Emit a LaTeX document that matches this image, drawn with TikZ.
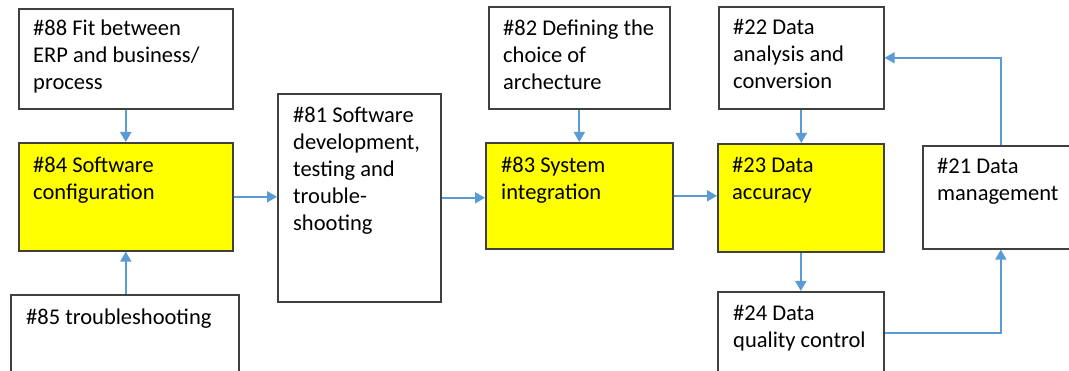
\documentclass[tikz,border=0pt]{standalone}
\usepackage{fontspec}
\setmainfont{Carlito}
\usetikzlibrary{arrows.meta}
\definecolor{boxline}{HTML}{404040}
\definecolor{flow}{HTML}{5B9BD5}
\definecolor{hilite}{HTML}{FFFF00}
\begin{document}
\begin{tikzpicture}[x=1pt,y=-1pt,
  box/.style={draw=boxline,line width=1.6pt,rectangle,inner sep=0pt,anchor=north west,fill=white},
  keybox/.style={box,fill=hilite},
  txt/.style={anchor=north west,inner sep=0pt,align=left,font=\fontsize{22.5}{27}\selectfont},
  flowline/.style={draw=flow,line width=1.8pt,-{Triangle[width=11pt,length=10pt]}}]
\clip (0,0) rectangle (1069,371);
\useasboundingbox (0,0) rectangle (1069,371);
\fill[white] (0,0) rectangle (1069,371);

% boxes
\node[box,minimum width=214pt,minimum height=100pt] (n88) at (18,8) {};
\node[keybox,minimum width=214pt,minimum height=108pt] (n84) at (18,142) {};
\node[box,minimum width=228pt,minimum height=100pt] (n85) at (10,294) {};
\node[box,minimum width=163pt,minimum height=208pt] (n81) at (277,93) {};
\node[box,minimum width=181pt,minimum height=102pt] (n82) at (488,6) {};
\node[keybox,minimum width=187pt,minimum height=106pt] (n83) at (485,142) {};
\node[box,minimum width=165pt,minimum height=102pt] (n22) at (718,6) {};
\node[keybox,minimum width=166pt,minimum height=108pt] (n23) at (717,143) {};
\node[box,minimum width=166pt,minimum height=82pt] (n24) at (717,291) {};
\node[box,minimum width=156pt,minimum height=103pt] (n21) at (922,145) {};

% labels
\node[txt] (t88) at (33,16) {\strut\#88 Fit between\\ERP and business/\\process};
\node[txt] (t84) at (33,153) {\strut\#84 Software\\configuration};
\node[txt] (t85) at (26,305) {\strut\#85 troubleshooting};
\node[txt] (t81) at (293,103) {\strut\#81 Software\\development,\\testing and\\trouble-\\shooting};
\node[txt] (t82) at (503,16) {\strut\#82 Defining the\\choice of\\archecture};
\node[txt] (t83) at (501,153) {\strut\#83 System\\integration};
\node[txt] (t22) at (733,15) {\strut\#22 Data\\analysis and\\conversion};
\node[txt] (t23) at (732,153) {\strut\#23 Data\\accuracy};
\node[txt] (t24) at (733,301) {\strut\#24 Data\\quality control};
\node[txt] (t21) at (937,154) {\strut\#21 Data\\management};

% connectors
\draw[flowline] (n88.south) -- (n84.north);
\draw[flowline] (n85.north -| n84.south) -- (n84.south);
\draw[flowline] (n84.east) -- (n84.east -| n81.west);
\draw[flowline] (n81.east) -- (n81.east -| n83.west);
\draw[flowline] (n82.south) -- (n82.south |- n83.north);
\draw[flowline] (n83.east) -- (n83.east -| n23.west);
\draw[flowline] (n22.south) -- (n22.south |- n23.north);
\draw[flowline] (n23.south) -- (n23.south |- n24.north);
\draw[flowline] (n24.east) -| (n21.south);
\draw[flowline] (n21.north) |- (n22.east);
\end{tikzpicture}
\end{document}
